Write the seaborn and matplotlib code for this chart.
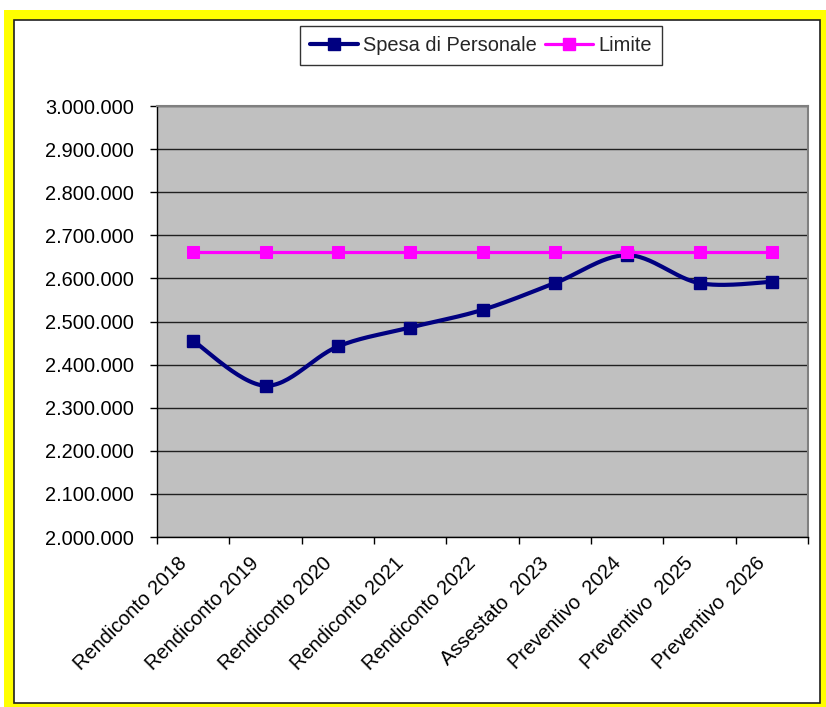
import numpy as np
import pandas as pd
import matplotlib
matplotlib.use("Agg")
import matplotlib.pyplot as plt
import matplotlib.transforms as mtransforms
from matplotlib.patches import Rectangle
from matplotlib.lines import Line2D
from matplotlib.ticker import FuncFormatter, FixedLocator
import seaborn as sns

categories = ["Rendiconto 2018", "Rendiconto 2019", "Rendiconto 2020", "Rendiconto 2021",
              "Rendiconto 2022", "Assestato  2023", "Preventivo  2024", "Preventivo  2025",
              "Preventivo  2026"]
spesa = [2455000, 2351000, 2442000, 2486000, 2527000, 2589000, 2654000, 2589000, 2592000]
limite = [2662000] * 9

sns.set_theme(style="white")
plt.rcParams["font.family"] = ["Liberation Sans", "DejaVu Sans"]

W, H = 826, 707
fig = plt.figure(figsize=(W / 100, H / 100), dpi=100)
fig.patch.set_facecolor("white")
fig.patches.append(Rectangle((4 / W, 0), (W - 4) / W, (H - 10) / H, transform=fig.transFigure,
                             facecolor="#FFFF00", edgecolor="none", zorder=-10))
fig.patches.append(Rectangle((14 / W, 4 / H), (820 - 14) / W, (703 - 20) / H, transform=fig.transFigure,
                             facecolor="white", edgecolor="#202020", linewidth=1.2, zorder=-9))

ax = fig.add_axes([157 / W, 170 / H, 651 / W, 431 / H])
ax.set_facecolor("#C0C0C0")

x = np.arange(len(categories))
df = pd.DataFrame({"x": x, "spesa": spesa, "limite": limite})

# Smoothed (Catmull-Rom) curve through the data points, like Excel's smoothed line
px = np.concatenate([[x[0]], x, [x[-1]]]).astype(float)
py = np.concatenate([[spesa[0]], spesa, [spesa[-1]]]).astype(float)
sx, sy = [], []
t = np.linspace(0, 1, 30)
for i in range(1, len(px) - 2):
    p0, p1, p2, p3 = (np.array([px[j], py[j]]) for j in (i - 1, i, i + 1, i + 2))
    c1 = p1 + (p2 - p0) / 6
    c2 = p2 - (p3 - p1) / 6
    pts = ((1 - t)[:, None] ** 3) * p1 + 3 * ((1 - t)[:, None] ** 2) * t[:, None] * c1 \
        + 3 * (1 - t)[:, None] * (t[:, None] ** 2) * c2 + (t[:, None] ** 3) * p2
    sx.extend(pts[:, 0]); sy.extend(pts[:, 1])
smooth = pd.DataFrame({"x": sx, "y": sy})

navy = "#000080"
pink = "#FF00FF"
sns.lineplot(data=smooth, x="x", y="y", ax=ax, color=navy, linewidth=3.0, sort=False,
             estimator=None, zorder=3)
ax.plot(df["x"], df["spesa"], linestyle="none", marker="s", markersize=8.5, color=navy, zorder=4)
sns.lineplot(data=df, x="x", y="limite", ax=ax, color=pink, linewidth=2.3, marker="s",
             markersize=8.5, markeredgecolor=pink, estimator=None, zorder=5)

ax.set_xlim(-0.5, len(categories) - 0.5)
ax.set_ylim(2000000, 3000000)
ax.set_yticks(np.arange(2000000, 3000001, 100000))
ax.yaxis.set_major_formatter(FuncFormatter(lambda v, p: f"{int(round(v)):,}".replace(",", ".")))
ax.yaxis.grid(True, color="#202020", linewidth=1.0)
ax.set_axisbelow(True)

ax.set_xticks(x)
ax.set_xticklabels(categories, rotation=45, ha="right", rotation_mode="anchor")
ax.xaxis.set_minor_locator(FixedLocator(np.arange(-0.5, len(categories), 1.0)))
ax.tick_params(axis="x", which="major", length=0, pad=12, labelsize=14.4, colors="black")
ax.tick_params(axis="x", which="minor", length=5, width=1, color="black", direction="out", bottom=True)
ax.tick_params(axis="y", which="major", length=5, width=1, color="black", direction="out", left=True,
               pad=11.5, labelsize=14.4, labelcolor="black")
offset = mtransforms.ScaledTranslation(-16 / 100, 0, fig.dpi_scale_trans)
for lab in ax.get_xticklabels():
    lab.set_va("top")
    lab.set_transform(lab.get_transform() + offset)

ax.set_xlabel("")
ax.set_ylabel("")
for s in ["top", "right"]:
    ax.spines[s].set_color("#808080")
    ax.spines[s].set_linewidth(1.5)
for s in ["left", "bottom"]:
    ax.spines[s].set_color("black")
    ax.spines[s].set_linewidth(1.0)

handles = [Line2D([], [], color=navy, linewidth=3.0, marker="s", markersize=8.5),
           Line2D([], [], color=pink, linewidth=2.3, marker="s", markersize=8.5)]
leg = fig.legend(handles, ["Spesa di Personale", "Limite"], loc="center", ncol=2,
                 bbox_to_anchor=(481 / W, (H - 45.5) / H), frameon=True, fancybox=False,
                 edgecolor="black", fontsize=14.4, handlelength=2.4, handletextpad=0.25,
                 columnspacing=0.4, borderpad=0.5, borderaxespad=0)
leg.get_frame().set_linewidth(1.0)
leg.get_frame().set_facecolor("white")

fig.savefig("out.png", dpi=100, facecolor=fig.get_facecolor())
